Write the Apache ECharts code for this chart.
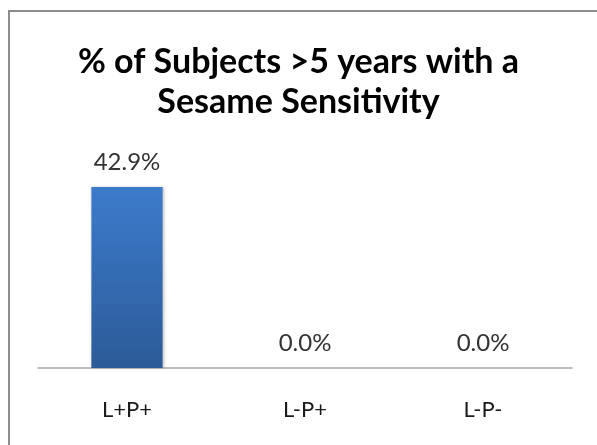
<!DOCTYPE html>
<html>
<head>
<meta charset="utf-8">
<script src="https://cdn.jsdelivr.net/npm/echarts@6/dist/echarts.min.js"></script>
<style>
  html, body { margin: 0; padding: 0; background: #fff; }
  #chart { width: 597px; height: 445px; }
</style>
</head>
<body>
<div id="chart"></div>
<script>
// Sesame sensitivity share by group
const titleLines = ['% of Subjects >5 years with a', 'Sesame Sensitivity'];
const categories = ['L+P+', 'L-P+', 'L-P-'];
const percentValues = [42.9, 0.0, 0.0];

const chart = echarts.init(document.getElementById('chart'));

chart.setOption({
  animation: false,
  backgroundColor: '#ffffff',
  title: {
    text: titleLines.join('\n'),
    left: 'center',
    top: 37,
    padding: [5, 5, 5, 15],
    textStyle: {
      fontFamily: 'Lato',
      fontWeight: 'bold',
      fontSize: 34,
      lineHeight: 40,
      color: '#000000'
    }
  },
  graphic: [
    {
      type: 'polyline',
      shape: { points: [[9, 445], [9, 11], [597, 11]] },
      style: { stroke: '#8c8c8c', lineWidth: 2, fill: null }
    }
  ],
  grid: { left: 38, right: 25, top: 157, bottom: 77 },
  xAxis: {
    type: 'category',
    data: categories,
    axisLine: { show: true, lineStyle: { color: '#a6a6a6', width: 1.5 } },
    axisTick: { show: false },
    axisLabel: {
      margin: 31,
      fontFamily: 'Lato',
      fontSize: 22,
      color: '#1a1a1a'
    }
  },
  yAxis: {
    type: 'value',
    min: 0,
    max: 50,
    show: false,
    splitLine: { show: false }
  },
  series: [{
    type: 'bar',
    data: percentValues,
    barWidth: '40%',
    itemStyle: {
      color: new echarts.graphic.LinearGradient(0, 0, 0, 1, [
        { offset: 0, color: '#3c7bcb' },
        { offset: 1, color: '#2c5b98' }
      ]),
      shadowColor: 'rgba(0,0,0,0.25)',
      shadowBlur: 3,
      shadowOffsetX: 1
    },
    label: {
      show: true,
      position: 'top',
      distance: 13,
      formatter: p => p.value.toFixed(1) + '%',
      fontFamily: 'Lato',
      fontSize: 24,
      color: '#333333'
    }
  }]
});
</script>
</body>
</html>
